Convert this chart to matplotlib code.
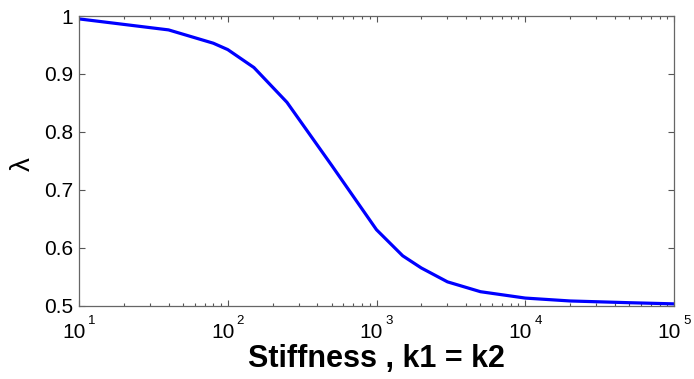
import matplotlib
matplotlib.use("Agg")
import matplotlib.pyplot as plt
from matplotlib.ticker import FixedLocator, FixedFormatter, LogLocator, NullFormatter

plt.rcParams['font.family'] = ['Liberation Sans', 'DejaVu Sans']

stiffness = [10, 40, 80, 100, 150, 250, 500, 1000, 1500, 2000, 3000, 5000, 10000, 20000, 50000, 100000]
lam = [0.995, 0.976, 0.953, 0.942, 0.911, 0.851, 0.742, 0.631, 0.586, 0.565, 0.541, 0.524, 0.513, 0.508, 0.505, 0.503]

y_ticks = [0.5, 0.6, 0.7, 0.8, 0.9, 1.0]
y_labels = ['0.5', '0.6', '0.7', '0.8', '0.9', '1']
x_ticks = [1e1, 1e2, 1e3, 1e4, 1e5]
x_exponents = ['1', '2', '3', '4', '5']

W, H = 694, 379
L, R, T, B = 79, 674, 16, 305.6
fig = plt.figure(figsize=(W/100, H/100), dpi=100)
ax = fig.add_axes([L/W, 1-B/H, (R-L)/W, (B-T)/H])
ax.plot(stiffness, lam, color='#0000ff', linewidth=2.3)
ax.set_xscale('log')
ax.set_xlim(10, 1e5)
ax.set_ylim(0.5, 1.0)

ax.xaxis.set_major_locator(FixedLocator(x_ticks))
ax.xaxis.set_major_formatter(NullFormatter())
ax.xaxis.set_minor_locator(LogLocator(base=10, subs=range(2, 10)))
ax.xaxis.set_minor_formatter(NullFormatter())
ax.yaxis.set_major_locator(FixedLocator(y_ticks))
ax.yaxis.set_major_formatter(FixedFormatter(y_labels))

ax.tick_params(which='both', direction='in', top=True, right=True, colors='#555555', labelcolor='black')
ax.tick_params(which='major', length=4.5, width=0.8, labelsize=15)
ax.tick_params(which='minor', length=2.5, width=0.8)
ax.tick_params(axis='y', which='major', pad=4)
for s in ax.spines.values():
    s.set_color('#666666')
    s.set_linewidth(0.9)

# x tick labels: base "10" with raised exponent (MATLAB style)
for xt, ex in zip(x_ticks, x_exponents):
    ax.annotate('10', xy=(xt, 0), xycoords=('data', 'axes fraction'),
                xytext=(-5, -32.6), textcoords='offset pixels',
                ha='center', va='baseline', fontsize=15, annotation_clip=False)
    ax.annotate(ex, xy=(xt, 0), xycoords=('data', 'axes fraction'),
                xytext=(9, -18.3), textcoords='offset pixels',
                ha='left', va='baseline', fontsize=9.5, annotation_clip=False)

ax.set_xlabel('Stiffness , k1 = k2', fontsize=22, fontweight='bold')
ax.xaxis.label.set_va('baseline')
ax.xaxis.set_label_coords(0.5, -(366.7-B)/(B-T))

ax.set_ylabel('λ', fontsize=20)
ax.yaxis.label.set_ha('center')
ax.yaxis.label.set_va('center')
ax.yaxis.set_label_coords((23-L)/(R-L), (B-164)/(B-T))

fig.savefig('out.png', dpi=100, facecolor='white')
